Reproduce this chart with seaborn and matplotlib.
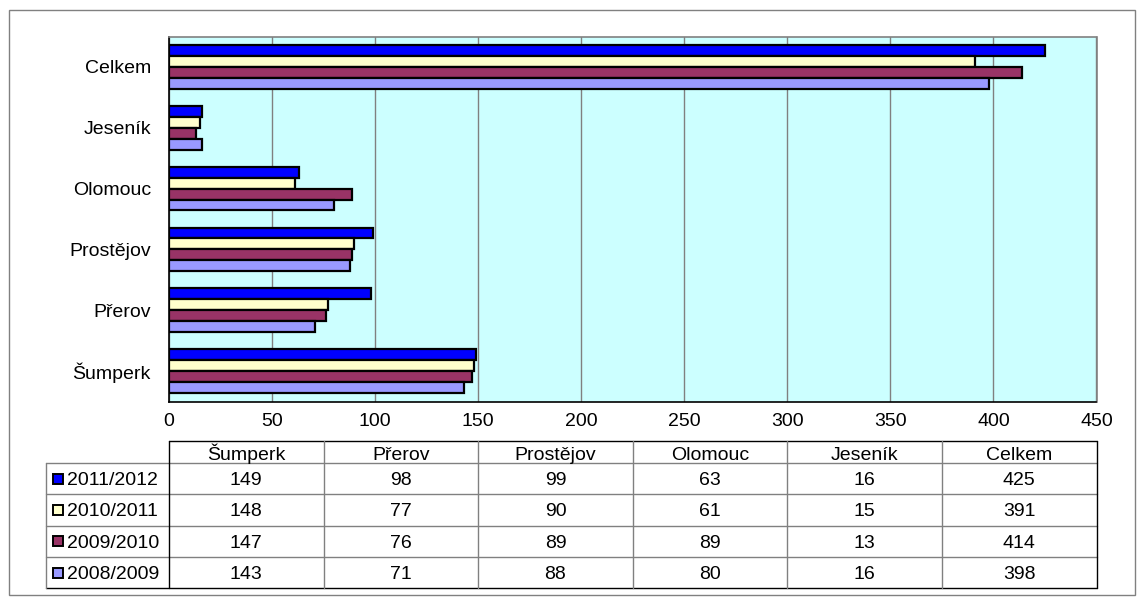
import matplotlib
matplotlib.use("Agg")
import matplotlib.pyplot as plt
from matplotlib.lines import Line2D
from matplotlib.patches import Rectangle
import seaborn as sns
import pandas as pd

# ---- data ----
districts = ["Šumperk", "Přerov", "Prostějov", "Olomouc", "Jeseník", "Celkem"]
years = ["2011/2012", "2010/2011", "2009/2010", "2008/2009"]
v_2011_2012 = [149, 98, 99, 63, 16, 425]
v_2010_2011 = [148, 77, 90, 61, 15, 391]
v_2009_2010 = [147, 76, 89, 89, 13, 414]
v_2008_2009 = [143, 71, 88, 80, 16, 398]
colors = ["#0000FF", "#FFFFCC", "#993366", "#9999FF"]
xticks = [0, 50, 100, 150, 200, 250, 300, 350, 400, 450]

series = [v_2011_2012, v_2010_2011, v_2009_2010, v_2008_2009]
rows = []
for y, vals in zip(years, series):
    for d, v in zip(districts, vals):
        rows.append({"district": d, "year": y, "value": v})
df = pd.DataFrame(rows)

sns.set_style("white")
plt.rcParams["font.family"] = ["Liberation Sans", "DejaVu Sans"]
plt.rcParams["text.color"] = "black"
plt.rcParams["xtick.color"] = "black"
plt.rcParams["ytick.color"] = "black"
plt.rcParams["xtick.labelcolor"] = "black"
plt.rcParams["ytick.labelcolor"] = "black"

FS = 14

W, H = 1137, 599
fig = plt.figure(figsize=(W / 100, H / 100), dpi=100)

def fx(x):
    return x / W

def fy(y):
    return 1 - y / H

# outer frame
fig.patches.append(Rectangle((fx(9), fy(595)), fx(1126), 585 / H, transform=fig.transFigure,
                             fill=False, edgecolor="#808080", linewidth=1.0))

ax_l, ax_r, ax_t, ax_b = 169, 1096.5, 36.5, 401.5
ax = fig.add_axes([fx(ax_l), fy(ax_b), fx(ax_r - ax_l), (ax_b - ax_t) / H])
ax.set_facecolor("#CCFFFF")

order = districts[::-1]
sns.barplot(data=df, y="district", x="value", hue="year", order=order, hue_order=years,
            palette=colors, orient="h", width=0.72, edgecolor="black", linewidth=1.6,
            saturation=1, ax=ax, legend=False)

ax.set_xlim(0, 450)
ax.set_ylim(len(order) - 0.5, -0.5)
ax.set_xticks(xticks)
ax.set_xticklabels([str(t) for t in xticks], fontsize=FS)
ax.set_yticks(range(len(order)))
ax.set_yticklabels(order, fontsize=FS)
ax.set_yticks([i - 0.5 for i in range(len(order) + 1)], minor=True)
ax.tick_params(axis="y", which="major", length=0, pad=13)
ax.tick_params(axis="y", which="minor", length=4, width=1, color="black", direction="out")
ax.tick_params(axis="x", which="major", length=3.5, width=1, color="black", direction="out", pad=5)
ax.set_xlabel("")
ax.set_ylabel("")
ax.grid(axis="x", color="#808080", linewidth=1.0)
ax.set_axisbelow(True)
for s in ["top", "right"]:
    ax.spines[s].set_color("#808080")
    ax.spines[s].set_linewidth(1.2)
for s in ["left", "bottom"]:
    ax.spines[s].set_color("black")
    ax.spines[s].set_linewidth(1.2)

# ---- data table ----
tab_left = 46
col_x0 = 169
col_x1 = 1096.5
ncol = len(districts)
cw = (col_x1 - col_x0) / ncol
head_top, head_bot = 441, 463
row_edges = [463, 494.3, 525.7, 557, 588.3]

def hline(x0, x1, y, color="#808080", lw=1.0):
    fig.add_artist(Line2D([fx(x0), fx(x1)], [fy(y), fy(y)], transform=fig.transFigure,
                          color=color, linewidth=lw))

def vline(x, y0, y1, color="#808080", lw=1.0):
    fig.add_artist(Line2D([fx(x), fx(x)], [fy(y0), fy(y1)], transform=fig.transFigure,
                          color=color, linewidth=lw))

hline(col_x0, col_x1, head_top, color="black")
hline(col_x0, col_x1, head_bot)
hline(tab_left, col_x0, row_edges[0])
for y in row_edges[1:-1]:
    hline(tab_left, col_x1, y)
hline(tab_left, col_x1, row_edges[-1], color="black")
vline(tab_left, row_edges[0], row_edges[-1])
for i in range(ncol + 1):
    x = col_x0 + i * cw
    vline(x, head_top, row_edges[-1], color="black" if i in (0, ncol) else "#808080")

for i, d in enumerate(districts):
    fig.text(fx(col_x0 + (i + 0.5) * cw), fy(459.5), d,
             ha="center", va="baseline", fontsize=FS)

for r, (y, vals, c) in enumerate(zip(years, series, colors)):
    yc = (row_edges[r] + row_edges[r + 1]) / 2
    base = yc + 6.5
    sq = 10
    fig.patches.append(Rectangle((fx(58 - sq / 2), fy(yc + sq / 2)), sq / W, sq / H,
                                 transform=fig.transFigure, facecolor=c,
                                 edgecolor="black", linewidth=1.4))
    fig.text(fx(66.5), fy(base), y, ha="left", va="baseline", fontsize=FS)
    for i, v in enumerate(vals):
        fig.text(fx(col_x0 + (i + 0.5) * cw), fy(base), str(v), ha="center",
                 va="baseline", fontsize=FS)

fig.savefig("out.png", dpi=100, facecolor="white")
